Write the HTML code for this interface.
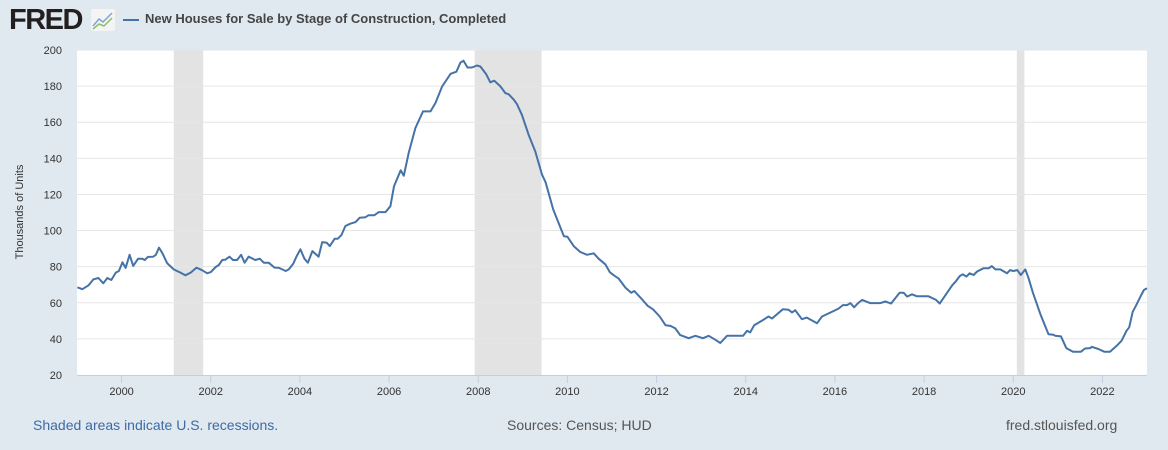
<!DOCTYPE html>
<html><head><meta charset="utf-8"><style>
body{margin:0;width:1168px;height:450px;background:#e1e9f0;font-family:"Liberation Sans",sans-serif;overflow:hidden;position:relative}
.abs{position:absolute}
</style></head><body>
<div class="abs" style="left:9px;top:4px;font-weight:bold;font-size:29px;color:#231f20;letter-spacing:-1.5px">FRED</div>
<svg class="abs" style="left:91px;top:9px" width="24" height="22"><rect width="24" height="22" fill="#f4f4f4" rx="2"/><polyline points="2,17 8,10 12,13 21,4" fill="none" stroke="#7fa6cf" stroke-width="1.5"/><polyline points="2,20 8,15 13,17 21,9" fill="none" stroke="#8cbf6a" stroke-width="1.5"/></svg>
<div class="abs" style="left:123px;top:11px;font-size:13px;font-weight:bold;color:#444">
<span style="display:inline-block;width:16px;height:2px;background:#4572a7;vertical-align:middle;margin-right:6px"></span>New Houses for Sale by Stage of Construction, Completed</div>
<svg id="chart" class="abs" style="left:0;top:0" width="1168" height="450"></svg>
<div class="abs" style="left:33px;top:417px;font-size:14px;color:#3d6aa5">Shaded areas indicate U.S. recessions.</div>
<div class="abs" style="left:507px;top:417px;font-size:14px;color:#555">Sources: Census; HUD</div>
<div class="abs" style="left:1006px;top:417px;font-size:14px;color:#555">fred.stlouisfed.org</div>
<script>
const years=[1999.01,1999.12,1999.26,1999.37,1999.48,1999.59,1999.68,1999.77,1999.87,1999.94,2000.02,2000.09,2000.18,2000.26,2000.37,2000.46,2000.52,2000.59,2000.71,2000.77,2000.84,2000.91,2001.02,2001.17,2001.32,2001.43,2001.55,2001.68,2001.81,2001.92,2002.0,2002.11,2002.18,2002.26,2002.33,2002.42,2002.5,2002.59,2002.68,2002.76,2002.85,2003.0,2003.1,2003.19,2003.3,2003.43,2003.53,2003.68,2003.75,2003.85,2003.92,2004.01,2004.1,2004.18,2004.28,2004.42,2004.5,2004.6,2004.67,2004.78,2004.85,2004.93,2005.02,2005.13,2005.25,2005.34,2005.47,2005.54,2005.67,2005.77,2005.92,2006.03,2006.11,2006.26,2006.33,2006.44,2006.59,2006.76,2006.93,2007.04,2007.19,2007.38,2007.51,2007.6,2007.67,2007.76,2007.86,2007.97,2008.05,2008.18,2008.27,2008.36,2008.5,2008.61,2008.68,2008.8,2008.87,2008.98,2009.13,2009.28,2009.43,2009.51,2009.68,2009.8,2009.92,2010.0,2010.14,2010.29,2010.44,2010.59,2010.7,2010.85,2010.95,2011.04,2011.15,2011.3,2011.43,2011.5,2011.67,2011.8,2011.92,2012.07,2012.2,2012.31,2012.42,2012.53,2012.72,2012.87,2013.04,2013.17,2013.32,2013.43,2013.58,2013.94,2014.03,2014.1,2014.19,2014.36,2014.51,2014.59,2014.7,2014.83,2014.96,2015.04,2015.11,2015.26,2015.37,2015.6,2015.71,2015.9,2016.08,2016.18,2016.27,2016.35,2016.43,2016.52,2016.61,2016.79,2017.02,2017.13,2017.26,2017.45,2017.54,2017.62,2017.73,2017.84,2018.1,2018.27,2018.35,2018.51,2018.63,2018.72,2018.8,2018.87,2018.95,2019.02,2019.11,2019.19,2019.33,2019.45,2019.52,2019.6,2019.71,2019.86,2019.93,2020.0,2020.09,2020.17,2020.27,2020.34,2020.44,2020.61,2020.79,2020.9,2020.94,2021.07,2021.19,2021.34,2021.52,2021.61,2021.73,2021.76,2021.91,2022.04,2022.17,2022.32,2022.43,2022.54,2022.6,2022.68,2022.75,2022.86,2022.93,2023.0];
const values=[68.6,67.5,69.7,73,73.7,70.8,73.7,72.6,76.7,77.6,82.4,79.3,86.6,80.4,84.4,84.4,83.7,85.4,85.5,86.6,90.5,87.7,82,78.5,76.7,75.2,76.7,79.5,78,76.3,77,79.8,80.9,83.7,83.9,85.5,83.7,83.7,86.6,82.2,85.5,83.7,84.4,82.2,82.2,79.5,79.3,77.6,78.5,81.6,85.5,89.6,84.4,82.2,88.6,85.5,93.6,93.3,91.4,95.5,95.5,97.5,102.5,103.8,104.7,107.1,107.4,108.5,108.5,110.2,110.2,113.5,124.5,133.4,130.4,143,156.8,166,166,170.6,179.8,186.8,188,193,194.1,190.3,190.3,191.4,190.8,186.5,182.1,183,179.8,176.1,175.5,172.4,170,164.1,153.1,143.8,131,126.7,111.7,104.3,96.9,96.6,91.4,88.1,86.6,87.4,84.4,81.3,77,75.2,73.4,68.4,65.6,66.5,62,58.3,56.4,52.4,47.6,47.2,45.8,42.1,40.4,41.7,40.4,41.7,39.5,37.7,41.7,41.7,44.5,43.6,47.6,50,52.4,51.3,53.7,56.4,56.1,54.6,55.9,50.9,51.8,48.7,52.4,54.6,56.8,58.7,58.7,59.8,57.5,59.8,61.6,59.8,59.8,60.7,59.6,65.6,65.6,63.4,64.7,63.6,63.6,61.6,59.6,65.3,69.7,72.1,74.8,75.8,74.5,76.3,75.4,77.3,79.1,79.1,80.3,78.5,78.5,76.3,78.1,77.6,78.1,75.4,78.5,73.9,65.6,53.7,42.6,42.3,41.7,41.4,34.9,32.9,32.9,34.7,34.9,35.6,34.4,32.9,32.9,36.2,39,44.5,46.4,55,58.3,63.8,67.1,68];
const yTicks=[20,40,60,80,100,120,140,160,180,200];
const xTicks=[2000,2002,2004,2006,2008,2010,2012,2014,2016,2018,2020,2022];
const recStart=[2001.17,2007.92,2020.08];
const recEnd=[2001.83,2009.42,2020.25];
const L=77,R=1147,T=50,B=375,x0=1999,x1=2023,y0=20,y1=200;
const sx=v=>L+(v-x0)/(x1-x0)*(R-L);
const sy=v=>B-(v-y0)/(y1-y0)*(B-T);
const svg=document.getElementById('chart');const NS='http://www.w3.org/2000/svg';
function mk(t,a){const e=document.createElementNS(NS,t);for(const k in a)e.setAttribute(k,a[k]);svg.appendChild(e);return e;}
let e=mk('rect',{x:L,y:T,width:R-L,height:B-T,fill:'#fff'});


recStart.forEach((s,i)=>{const r=mk('rect',{x:sx(s),y:T,width:sx(recEnd[i])-sx(s),height:B-T,fill:'#e3e3e3'});

});
yTicks.forEach(v=>{if(v>y0){const g=mk('line',{x1:L,x2:R,y1:sy(v),y2:sy(v),stroke:'#e6e6e6','stroke-width':1});

}
const t=mk('text',{x:62,y:sy(v)+4,'text-anchor':'end','font-size':11,fill:'#333','font-family':'Liberation Sans, sans-serif'});t.textContent=v;

});
e=mk('line',{x1:L,x2:R,y1:B+0.5,y2:B+0.5,stroke:'#c0d0e0'});


xTicks.forEach(v=>{const tk=mk('line',{x1:sx(v),x2:sx(v),y1:B,y2:B+8,stroke:'#c0d0e0'});


const t=mk('text',{x:sx(v),y:B+20,'text-anchor':'middle','font-size':11,fill:'#333','font-family':'Liberation Sans, sans-serif'});t.textContent=v;

});
const yt=mk('text',{x:0,y:0,transform:'translate(23,212) rotate(-90)','text-anchor':'middle','font-size':11,fill:'#333','font-family':'Liberation Sans, sans-serif'});yt.textContent='Thousands of Units';


const p=mk('polyline',{points:years.map((y,i)=>sx(y).toFixed(1)+','+sy(values[i]).toFixed(1)).join(' '),fill:'none',stroke:'#4572a7','stroke-width':2,'stroke-linejoin':'round'});


</script>
</body></html>
